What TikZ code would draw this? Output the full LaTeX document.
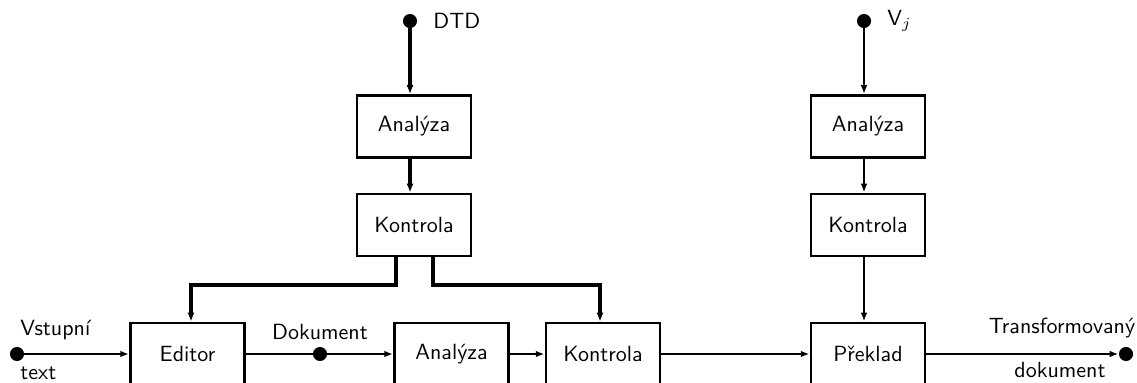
\documentclass[tikz,border=0pt]{standalone}
\usepackage{fontspec}
\usetikzlibrary{arrows.meta,calc}
\begin{document}
\begin{tikzpicture}[x=0.4545pt,y=-0.4545pt,
  box/.style={draw,line width=1.3pt,minimum width=51.8pt,minimum height=28.2pt,inner sep=0pt,font=\sffamily},
  dot/.style={circle,fill=black,draw=none,minimum size=6.4pt,inner sep=0pt},
  conn/.style={line width=1.1pt,-{Latex[length=4pt,width=3pt]}},
  thconn/.style={line width=1.4pt,-{Latex[length=4pt,width=3.2pt]}},
  plain/.style={line width=1.1pt},
  lbl/.style={font=\sffamily,inner sep=0pt}]
\useasboundingbox (0,0) rectangle (1137,383);
% boxes
\node[box] (a1) at (414,126.5) {Analýza};
\node[box] (k1) at (414,225) {Kontrola};
\node[box] (a3) at (868,126.5) {Analýza};
\node[box] (k3) at (868,225) {Kontrola};
\node[box] (ed) at (187.5,354) {Editor};
\node[box] (a2) at (451.5,354) {Analýza};
\node[box] (k2) at (603,354) {Kontrola};
\node[box] (pr) at (868,354) {Překlad};
% dots
\node[dot] (din) at (17,354) {};
\node[dot] (ddok) at (320,354) {};
\node[dot] (dout) at (1126,354) {};
\node[dot] (ddtd) at (410,21) {};
\node[dot] (dvj) at (864,21) {};
% labels
\node[lbl,anchor=west] (ldtd) at (433,21) {DTD};
\node[lbl,anchor=west] (lvj) at (887,21) {V$_j$};
\node[lbl,anchor=west] (lvs) at (20,330) {Vstupní};
\node[lbl,anchor=west] (ltx) at (20,373) {text};
\node[lbl] (ldok) at (320,332) {Dokument};
\node[lbl] (ltr) at (1062,328) {Transformovaný};
\node[lbl] (ldk) at (1060,370) {dokument};
% helper coordinates
\coordinate (hl) at (191,285);
\coordinate (hr) at (600,285);
% left column
\draw[thconn] (ddtd) -- (ddtd |- a1.north);
\draw[thconn] (ddtd |- a1.south) -- (ddtd |- k1.north);
\draw[thconn] ($(k1.south)+(-18,0)$) |- (hl) -- (hl |- ed.north);
\draw[thconn] ($(k1.south)+(19,0)$) |- (hr) -- (hr |- k2.north);
% right column
\draw[conn] (dvj) -- (dvj |- a3.north);
\draw[conn] (dvj |- a3.south) -- (dvj |- k3.north);
\draw[conn] (dvj |- k3.south) -- (dvj |- pr.north);
% main line
\draw[conn] (din) -- (ed);
\draw[plain] (ed) -- (ddok);
\draw[conn] (ddok) -- (a2);
\draw[conn] (a2) -- (k2);
\draw[conn] (k2) -- (pr);
\draw[conn] (pr) -- (dout);
\end{tikzpicture}
\end{document}
